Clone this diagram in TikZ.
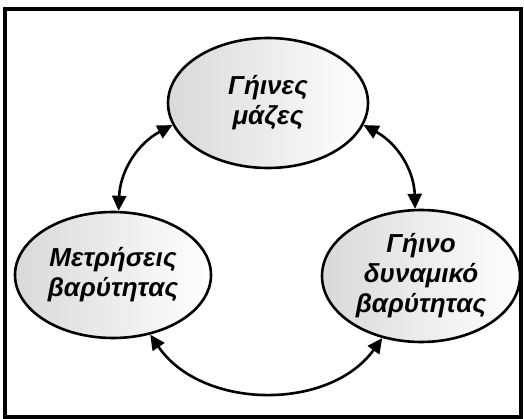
\documentclass[tikz,border=0pt]{standalone}
\usepackage{fontspec}
\setmainfont{Liberation Sans}
\usetikzlibrary{arrows.meta,shapes.geometric}

\begin{document}
\begin{tikzpicture}[
    x=1pt, y=1pt,
    cyclebox/.style={draw, ellipse, line width=2.6pt, inner sep=0pt,
      left color=black!15, right color=white, align=center,
      font=\fontsize{26}{30}\selectfont\bfseries\itshape},
    arrow/.style={{Triangle[length=15pt,width=14pt]}-{Triangle[length=15pt,width=14pt]},
      line width=2.6pt}
  ]
    \useasboundingbox (0,0) rectangle (524,418);
    \draw[line width=3.5pt] (5,1) rectangle (521,409);
    \node[cyclebox, minimum width=200pt, minimum height=130pt] (masses) at (268,315) {Γήινες\\μάζες};
    \node[cyclebox, minimum width=196pt, minimum height=126pt] (measure) at (113,143) {Μετρήσεις\\βαρύτητας};
    \node[cyclebox, minimum width=198pt, minimum height=132pt] (potential) at (421,142) {Γήινο\\δυναμικό\\βαρύτητας};
    \draw[arrow] (measure.85) to[bend left=30] (masses.193);
    \draw[arrow] (masses.-13) to[bend left=30] (potential.95);
    \draw[arrow] (measure.-58) to[bend right=55] (potential.238);
  \end{tikzpicture}
\end{document}
